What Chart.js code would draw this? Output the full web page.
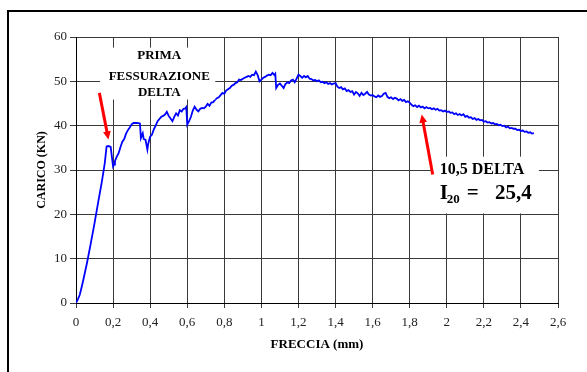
<!DOCTYPE html>
<html>
<head>
<meta charset="utf-8">
<script src="https://cdn.jsdelivr.net/npm/chart.js@4/dist/chart.umd.min.js"></script>
<style>
    html, body { margin: 0; padding: 0; background: #fff; overflow: hidden; }
    #frame { position: absolute; left: 7px; top: 10px; width: 640px; height: 420px; border: 2px solid #000; }
    #wrap { position: absolute; left: 0; top: 0; width: 587px; height: 372px; }
</style>
</head>
<body>
<div id="frame"></div>
<div id="wrap"><canvas id="chart" width="587" height="372"></canvas></div>
<script>
// freccia (mm)
const freccia = [
    0, 0.01, 0.02, 0.03, 0.04, 0.06, 0.08, 0.1, 0.12, 0.14, 0.155, 0.165, 0.175, 0.187,
    0.2, 0.205, 0.21, 0.22, 0.23, 0.24, 0.25, 0.26, 0.27, 0.28, 0.29, 0.3, 0.31, 0.33, 0.345,
    0.35, 0.355, 0.36, 0.365, 0.375, 0.385, 0.39, 0.4, 0.41, 0.42, 0.43, 0.44, 0.45, 0.46, 0.47,
    0.48, 0.49, 0.5, 0.51, 0.52, 0.53, 0.54, 0.55, 0.56, 0.57, 0.58, 0.59, 0.595,
    0.6, 0.61, 0.62, 0.63, 0.64, 0.65, 0.66, 0.67, 0.68, 0.69, 0.7, 0.71, 0.72, 0.73, 0.74,
    0.75, 0.76, 0.77, 0.78, 0.79, 0.8, 0.81, 0.82, 0.83, 0.84, 0.85, 0.86, 0.87, 0.88, 0.89,
    0.9, 0.91, 0.92, 0.93, 0.94, 0.95, 0.96, 0.97, 0.98, 0.99, 1.0, 1.01, 1.02, 1.03, 1.04,
    1.05, 1.06, 1.07, 1.075, 1.08, 1.09, 1.1, 1.11, 1.12, 1.13, 1.14, 1.15, 1.16, 1.17, 1.18,
    1.19, 1.2, 1.21, 1.22, 1.23, 1.24, 1.25, 1.26, 1.27, 1.28, 1.29, 1.3, 1.31, 1.32, 1.33,
    1.34, 1.35, 1.36, 1.37, 1.38, 1.39, 1.4, 1.41, 1.42, 1.43, 1.44, 1.45, 1.46, 1.47, 1.48,
    1.49, 1.5, 1.51, 1.52, 1.53, 1.54, 1.55, 1.56, 1.57, 1.58, 1.59, 1.6, 1.61, 1.62, 1.63,
    1.64, 1.65, 1.66, 1.67, 1.68, 1.69, 1.7, 1.71, 1.72, 1.73, 1.74, 1.75, 1.76, 1.77, 1.78,
    1.79, 1.8, 1.81, 1.82, 1.83, 1.84, 1.85, 1.86, 1.87, 1.88, 1.89, 1.9, 1.91, 1.92, 1.93,
    1.94, 1.95, 1.96, 1.97, 1.98, 1.99, 2.0, 2.01, 2.02, 2.03, 2.04, 2.05, 2.06, 2.07, 2.08,
    2.09, 2.1, 2.11, 2.12, 2.13, 2.14, 2.15, 2.16, 2.17, 2.18, 2.19, 2.2, 2.21, 2.22, 2.23,
    2.24, 2.25, 2.26, 2.27, 2.28, 2.29, 2.3, 2.31, 2.32, 2.33, 2.34, 2.35, 2.36, 2.37, 2.38,
    2.39, 2.4, 2.41, 2.42, 2.43, 2.44, 2.45, 2.46, 2.47
];

// carico (kN)
const carico = [
    0, 0.8, 1.8, 3.5, 5.3, 9.2, 13.5, 18, 22.8, 27.5, 31.5, 35.3, 35.4, 35.2,
    30.8, 31.2, 32, 33, 33.8, 35.2, 36.4, 37, 38.2, 39, 39.6, 40.3, 40.6, 40.6, 40.5,
    37.2, 37.8, 38.3, 37.0, 36.8, 34.6, 36, 37.5, 38, 39.2, 40, 41, 41.5, 42, 42.2,
    42.5, 43.1, 42.2, 41.6, 41.0, 42.0, 42.8, 42.3, 43.5, 43.2, 43.8, 43.9, 44.2,
    40.2, 41, 42, 43.4, 44.3, 43.6, 43.2, 43.8, 44, 43.9, 44.3, 44.9, 44.5, 45.2, 45.3,
    45.8, 46.2, 46.4, 46.9, 47.4, 47.2, 47.9, 48.2, 48.5, 49, 49.2, 49.6, 49.8, 50.4, 50.3,
    50.6, 50.8, 51, 51.2, 51, 51.5, 51.4, 52.2, 51.4, 50, 50.4, 50.8, 51, 51.3, 51.5,
    51.4, 51.9, 51.4, 51.7, 48.5, 49.2, 49.5, 49.0, 48.5, 49.4, 49.8, 49.6, 50.2, 50.4, 49.8,
    50.6, 51.5, 51.2, 50.8, 51.2, 50.9, 51.2, 50.6, 50.5, 50.2, 50.3, 50.0, 50.2, 49.8, 49.9,
    49.6, 49.8, 49.4, 49.6, 49.3, 49.5, 49.6, 48.8, 48.5, 48.7, 48.2, 48.4, 47.8, 48, 47.6,
    47.8, 47.0, 47.6, 47.3, 46.7, 47.4, 46.9, 47.2, 47.6, 47.0, 46.8, 46.9, 46.6, 46.4, 46.8,
    46.5, 46.7, 47.2, 47.4, 46.5, 46.2, 46.4, 46.0, 46.3, 46.1, 45.7, 46.0, 45.6, 45.8, 45.3,
    45.5, 45.2, 44.7, 44.4, 44.6, 44.2, 44.5, 44.1, 44.3, 43.9, 44.2, 43.9, 44.0, 43.7, 43.9,
    43.6, 43.8, 43.4, 43.5, 43.2, 43.4, 43.1, 43.2, 42.9, 43.0, 42.6, 42.8, 42.4, 42.6, 42.3,
    42.6, 42.0, 42.2, 41.8, 41.9, 41.5, 41.7, 41.3, 41.5, 41.2, 41.3, 40.9, 41.0, 40.7, 40.8,
    40.5, 40.6, 40.3, 40.4, 40.1, 40.2, 39.9, 40.0, 39.6, 39.8, 39.4, 39.5, 39.3, 39.3, 39.0,
    39.1, 38.8, 38.9, 38.6, 38.7, 38.4, 38.5, 38.2, 38.3
];

const xTickLabels = ['0', '0,2', '0,4', '0,6', '0,8', '1', '1,2', '1,4', '1,6', '1,8', '2', '2,2', '2,4', '2,6'];
const yTickLabels = ['0', '10', '20', '30', '40', '50', '60'];

const serif = '"Liberation Serif", "Times New Roman", serif';

function arrow(ctx, x1, y1, x2, y2) {
    const ang = Math.atan2(y2 - y1, x2 - x1);
    const head = 9;
    ctx.save();
    ctx.strokeStyle = '#ff0000';
    ctx.fillStyle = '#ff0000';
    ctx.lineWidth = 3;
    ctx.beginPath();
    ctx.moveTo(x1, y1);
    ctx.lineTo(x2 - Math.cos(ang) * head * 0.8, y2 - Math.sin(ang) * head * 0.8);
    ctx.stroke();
    ctx.beginPath();
    ctx.moveTo(x2, y2);
    ctx.lineTo(x2 - head * Math.cos(ang - 0.45), y2 - head * Math.sin(ang - 0.45));
    ctx.lineTo(x2 - head * Math.cos(ang + 0.45), y2 - head * Math.sin(ang + 0.45));
    ctx.closePath();
    ctx.fill();
    ctx.restore();
}

const notes = {
    id: 'notes',
    afterDatasetsDraw(chart) {
        const ctx = chart.ctx;
        const sx = chart.scales.x, sy = chart.scales.y;
        const px = v => sx.getPixelForValue(v);
        const py = v => sy.getPixelForValue(v);

        ctx.save();
        // box prima fessurazione
        ctx.fillStyle = '#fff';
        ctx.fillRect(px(0.13), py(57.6), px(0.751) - px(0.13), py(45.9) - py(57.6));
        ctx.fillStyle = '#000';
        ctx.font = 'bold 13px ' + serif;
        ctx.textAlign = 'center';
        ctx.textBaseline = 'middle';
        const cx = px(0.449);
        ctx.fillText('PRIMA', cx, py(55.9));
        ctx.fillText('FESSURAZIONE', cx, py(51.1));
        ctx.fillText('DELTA', cx, py(47.5));

        // box 10,5 delta
        ctx.fillStyle = '#fff';
        ctx.fillRect(px(1.914), py(33.0), px(2.497) - px(1.914), py(20.2) - py(33.0));
        ctx.fillStyle = '#000';
        ctx.textAlign = 'left';
        ctx.textBaseline = 'alphabetic';
        ctx.font = 'bold 16px ' + serif;
        const lx = px(1.962);
        ctx.fillText('10,5 DELTA', lx, py(29.0));
        const by = py(23.5);
        ctx.font = 'bold 21px ' + serif;
        ctx.fillText('I', lx, by);
        ctx.font = 'bold 13px ' + serif;
        ctx.fillText('20', lx + 7, by + 4);
        ctx.font = 'bold 21px ' + serif;
        ctx.fillText('=', lx + 27, by);
        ctx.textAlign = 'right';
        ctx.fillText('25,4', px(2.459), by);
        ctx.restore();

        arrow(ctx, px(0.126), py(47.4), px(0.175), py(36.9));
        arrow(ctx, px(1.924), py(29.0), px(1.865), py(42.5));
    }
};

new Chart(document.getElementById('chart'), {
    type: 'line',
    data: {
        datasets: [{
            data: freccia.map((f, i) => ({x: f, y: carico[i]})),
            borderColor: '#0000ff',
            borderWidth: 1.8,
            pointRadius: 0,
            tension: 0,
            fill: false
        }]
    },
    options: {
        responsive: false,
        animation: false,
        layout: {padding: {top: 37, right: 29, left: 0, bottom: 0}},
        plugins: {legend: {display: false}, tooltip: {enabled: false}},
        scales: {
            x: {
                type: 'linear',
                min: 0,
                max: 2.6,
                afterFit: s => { s.height = 69; },
                ticks: {
                    stepSize: 0.2,
                    color: '#222',
                    padding: 7,
                    maxRotation: 0,
                    autoSkip: false,
                    font: {family: serif, size: 13},
                    callback: (v, i) => xTickLabels[i]
                },
                grid: {color: '#3a3a3a', lineWidth: 1, tickLength: 5},
                border: {color: '#000', width: 1},
                title: {
                    display: true,
                    text: 'FRECCIA (mm)',
                    color: '#000',
                    font: {family: serif, size: 13, weight: 'bold'},
                    padding: {top: 0, bottom: 20}
                }
            },
            y: {
                min: 0,
                max: 60,
                afterFit: s => { s.width = 76; },
                ticks: {
                    stepSize: 10,
                    color: '#222',
                    padding: 3,
                    font: {family: serif, size: 13},
                    callback: (v, i) => yTickLabels[i]
                },
                grid: {color: '#3a3a3a', lineWidth: 1, tickLength: 6},
                border: {color: '#000', width: 1},
                title: {
                    display: true,
                    text: 'CARICO (KN)',
                    color: '#000',
                    font: {family: serif, size: 12, weight: 'bold'},
                    padding: {top: 35, bottom: 0}
                }
            }
        }
    },
    plugins: [notes]
});
</script>
</body>
</html>
